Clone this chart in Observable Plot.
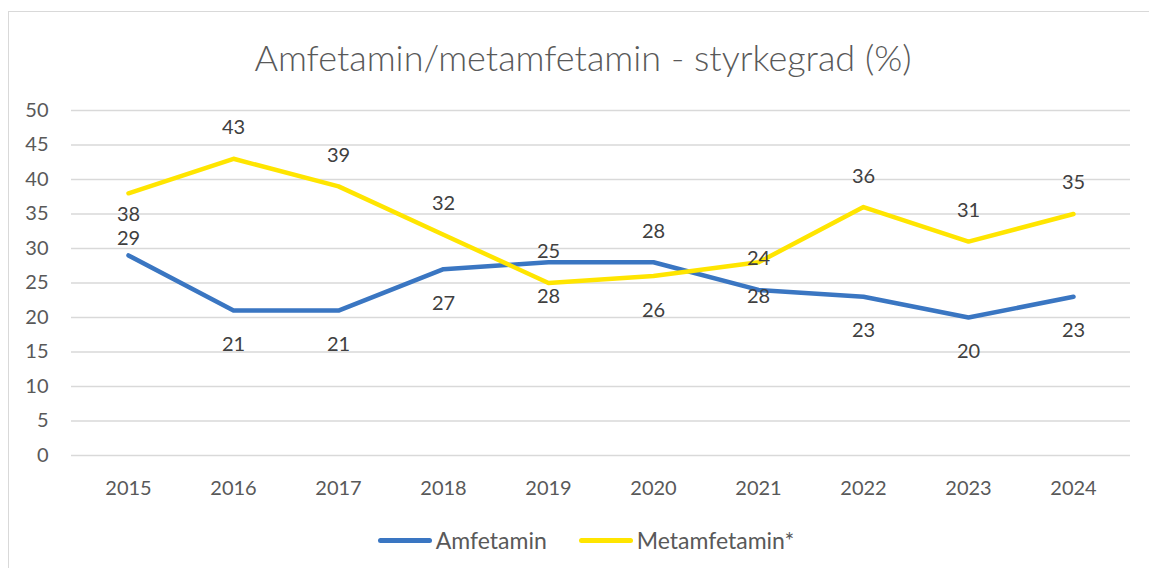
<!DOCTYPE html>
<html>
<head>
<meta charset="utf-8">
<script src="https://cdn.jsdelivr.net/npm/d3@7"></script>
<script src="https://cdn.jsdelivr.net/npm/@observablehq/plot@0.6"></script>
<style>
  html, body { margin: 0; padding: 0; background: #fff; }
  #wrap { position: relative; width: 1149px; height: 568px; overflow: hidden; font-family: Lato, "Open Sans", sans-serif; }
  #frame { position: absolute; left: 8px; top: 11px; width: 1150px; height: 570px; border: 1px solid #d9d9d9; box-sizing: border-box; }
  #title { position: absolute; left: 8px; width: 1150px; top: 36px; text-align: center; font-size: 36px; font-weight: 300; color: #595959; line-height: 42px; }
  #chart { position: absolute; left: 0; top: 0; }
  #legend { position: absolute; top: 526px; left: 0; width: 1172px; display: flex; justify-content: center; align-items: center; font-size: 23px; color: #595959; }
  .item { display: flex; align-items: center; margin: 0 16px; }
  .sw { width: 54px; height: 5px; border-radius: 3px; margin-right: 4px; }
</style>
</head>
<body>
<div id="wrap">
  <div id="frame"></div>
  <div id="chart"></div>
  <div id="title"></div>
  <div id="legend"></div>
</div>
<script>
const title = "Amfetamin/metamfetamin - styrkegrad (%)";
const years = ["2015","2016","2017","2018","2019","2020","2021","2022","2023","2024"];
const amfetamin = [29, 21, 21, 27, 28, 28, 24, 23, 20, 23];
const metamfetamin = [38, 43, 39, 32, 25, 26, 28, 36, 31, 35];
// where each data label sits relative to its point ("close" = squeezed between the two lines)
const amfLabelSide = ["above-close","below","below","below","below","above","above","below","below","below"];
const metLabelSide = ["below-close","above","above","above","above","below","below","above","above","above"];
const yTicks = [0, 5, 10, 15, 20, 25, 30, 35, 40, 45, 50];
const seriesNames = ["Amfetamin", "Metamfetamin*"];
const colors = ["#3a76c2", "#ffe500"];

const sideOffset = {"above": -31, "below": 34, "above-close": -17, "below-close": 21};

const rows = [];
years.forEach((yr, i) => {
  rows.push({year: yr, value: amfetamin[i], series: seriesNames[0], side: amfLabelSide[i]});
  rows.push({year: yr, value: metamfetamin[i], series: seriesNames[1], side: metLabelSide[i]});
});

const labelMarks = Object.keys(sideOffset).map(side =>
  Plot.text(rows.filter(d => d.side === side), {
    x: "year", y: "value", text: d => String(d.value),
    dy: sideOffset[side], fontSize: 20, fill: "#404040"
  })
);

const plot = Plot.plot({
  width: 1149,
  height: 568,
  marginLeft: 71,
  marginRight: 19,
  marginTop: 110,
  marginBottom: 113,
  style: {fontFamily: "Lato, 'Open Sans', sans-serif", background: "transparent"},
  x: {type: "point", domain: years, padding: 0.5},
  y: {domain: [0, 50]},
  color: {domain: seriesNames, range: colors},
  marks: [
    Plot.gridY(yTicks, {stroke: "#d9d9d9", strokeOpacity: 1, strokeWidth: 1.5}),
    Plot.axisY(yTicks, {tickSize: 0, tickPadding: 23, fontSize: 20, fill: "#595959", label: null}),
    Plot.axisX({tickSize: 0, tickPadding: 25, fontSize: 20, fill: "#595959", label: null}),
    Plot.line(rows, {x: "year", y: "value", z: "series", stroke: "series", strokeWidth: 4.5, strokeLinecap: "round", strokeLinejoin: "round"}),
    ...labelMarks
  ]
});
document.getElementById("chart").appendChild(plot);
document.getElementById("title").textContent = title;

const legend = document.getElementById("legend");
seriesNames.forEach((name, i) => {
  const it = document.createElement("div");
  it.className = "item";
  const sw = document.createElement("div");
  sw.className = "sw";
  sw.style.background = colors[i];
  const tx = document.createElement("span");
  tx.textContent = name;
  it.appendChild(sw);
  it.appendChild(tx);
  legend.appendChild(it);
});
</script>
</body>
</html>
